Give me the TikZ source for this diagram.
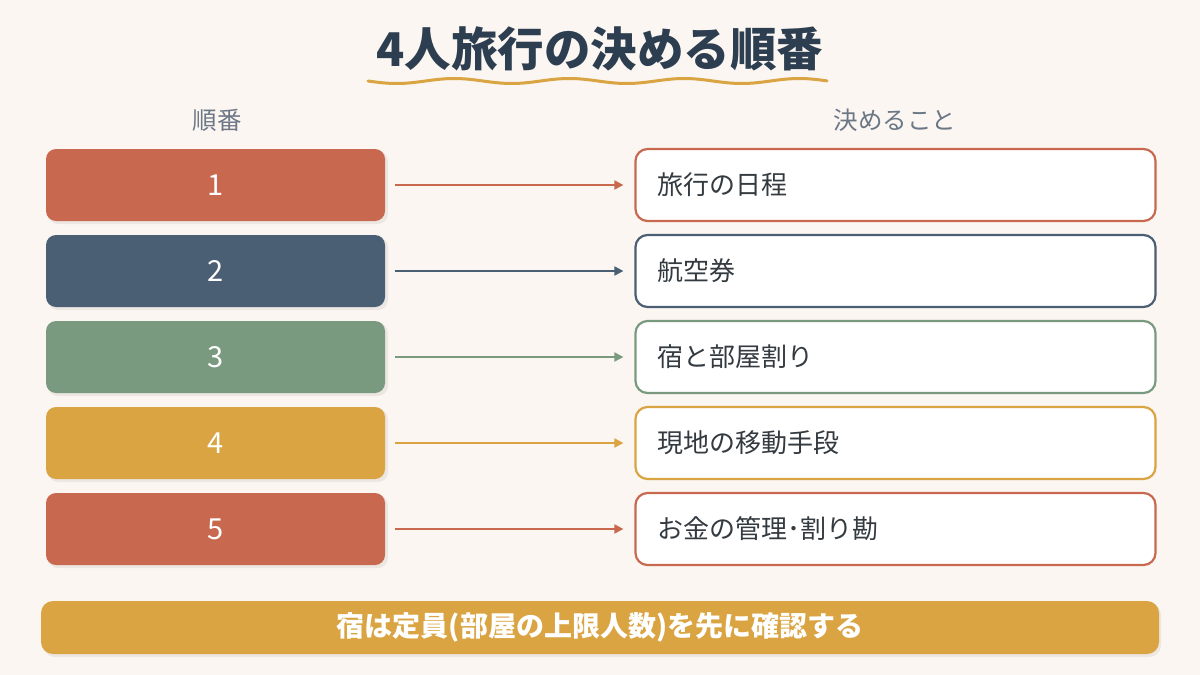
\documentclass[tikz,border=0pt]{standalone}
\usepackage{fontspec}
\setmainfont{Noto Sans CJK JP}
\usetikzlibrary{arrows.meta}
\definecolor{bg}{HTML}{FBF6F2}
\definecolor{cred}{HTML}{C8694F}
\definecolor{cnavy}{HTML}{4A5F74}
\definecolor{cgreen}{HTML}{7A9A80}
\definecolor{cgold}{HTML}{D9A441}
\definecolor{ctitle}{HTML}{2C3E50}
\definecolor{chead}{HTML}{6B7785}
\definecolor{ctext}{HTML}{333A40}
\tikzset{
  numbox/.style={rounded corners=10pt, minimum width=339pt, minimum height=72pt, inner sep=0pt, text=white, font=\fontsize{29}{33}\selectfont},
  itembox/.style={rounded corners=12pt, fill=white, line width=2.2pt, minimum width=520pt, minimum height=72pt, inner sep=0pt},
  itemtext/.style={anchor=west, text=ctext, font=\fontsize{26}{30}\selectfont, inner sep=0pt},
  conn/.style={line width=1.8pt, -{Triangle[length=9pt,width=9pt]}},
  header/.style={font=\fontsize{24.5}{29}\selectfont, text=chead},
}
\begin{document}
\begin{tikzpicture}[x=1pt,y=-1pt]
\fill[bg] (0,0) rectangle (1200,675);
\useasboundingbox (0,0) rectangle (1200,675);
% title
\node[font=\fontsize{46.5}{52}\selectfont\bfseries, text=ctitle] (title) at (600,49) {4人旅行の決める順番};
\draw[cgold, line width=3pt, line cap=round, domain=0:459, samples=120] plot ({368+\x},{81+2.5*sin(\x*3.1304)});
% headers
\node[header] (h1) at (217,120) {順番};
\node[header] (h2) at (895,120) {決めること};
% rows
\foreach \i/\col/\txt in {1/cred/旅行の日程, 2/cnavy/航空券, 3/cgreen/宿と部屋割り, 4/cgold/現地の移動手段, 5/cred/お金の管理･割り勘}{
  \pgfmathsetmacro{\yy}{185+86*(\i-1)}
  \fill[black, opacity=0.06, rounded corners=10pt] (48,\yy-34) rectangle (388,\yy+39);
  \node[numbox, fill=\col] (n\i) at (215.5,\yy) {\i};
  \node[itembox, draw=\col] (b\i) at (895.5,\yy) {};
  \node[itemtext] (t\i) at (657,\yy) {\txt};
  \draw[conn, \col] ([xshift=10pt]n\i.east) -- ([xshift=-11pt]b\i.west);
}
% bottom bar
\fill[black, opacity=0.06, rounded corners=12pt] (43,603) rectangle (1161,657);
\node[fill=cgold, rounded corners=12pt, minimum width=1118pt, minimum height=53pt, inner sep=0pt, text=white, font=\fontsize{28}{32}\selectfont\bfseries] (note) at (600,627.5) {宿は定員(部屋の上限人数)を先に確認する};
\end{tikzpicture}
\end{document}
